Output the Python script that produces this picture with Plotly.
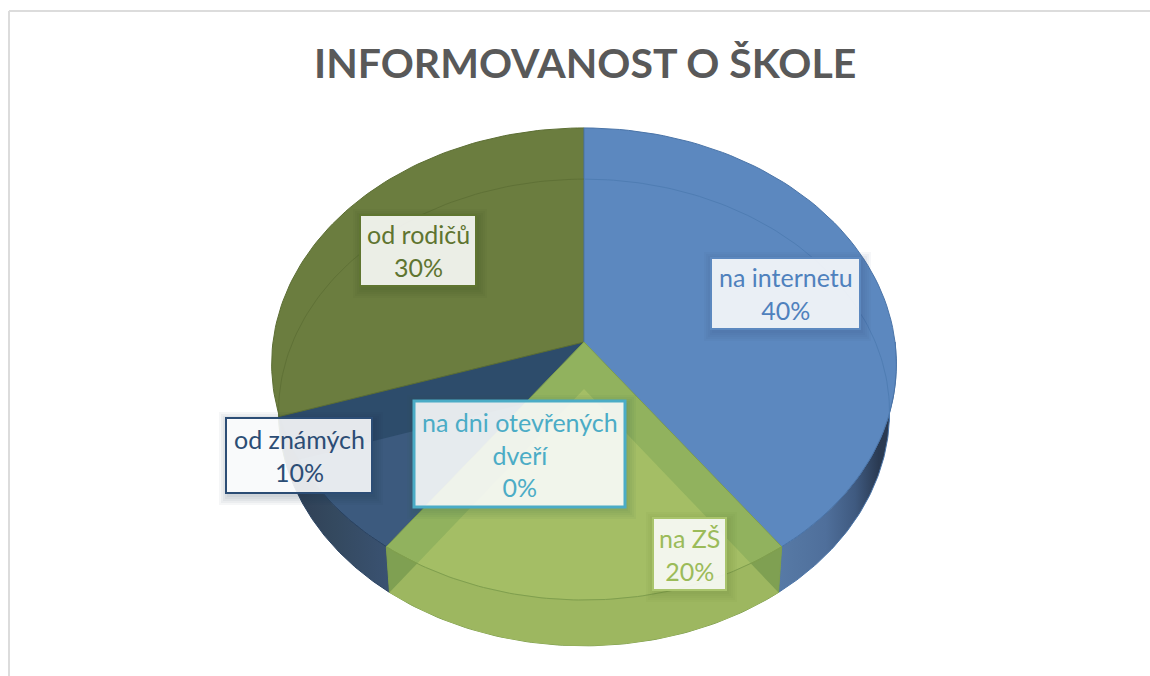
import math
import plotly.graph_objects as go

# ---- data ----
categories = ["na internetu", "na ZŠ", "na dni otevřených dveří", "od známých", "od rodičů"]
values = [40, 20, 0, 10, 30]
title_text = "INFORMOVANOST O ŠKOLE"

# ---- styling ----
TOP = {"blue": "#5C88BF", "green": "#91B25E", "navy": "#3C5A7E", "olive": "#6B7D3F"}
EDGE = {"blue": "#4A74A8", "green": "#7F9F4E", "navy": "#2A4362", "olive": "#5C6E33"}
FONT = "Lato"

# top and bottom disc of the perspective pie (pixel-space axes)
CX = 584
DISC_TOP = dict(y0=342, a=234, b=311, k=0.0932)
DISC_BOT = dict(y0=389, a=231, b=304, k=0.1006)


def proj(theta_deg, d):
    t = math.radians(theta_deg)
    u, v = math.sin(t), math.cos(t)
    w = 1 + d["k"] * v
    return CX + d["b"] * u / w, d["y0"] - d["a"] * v / w


def arc(t1, t2, d, n=80):
    pts = [proj(t1 + (t2 - t1) * i / n, d) for i in range(n + 1)]
    return [p[0] for p in pts], [p[1] for p in pts]


def sector(t1, t2, d):
    xs, ys = arc(t1, t2, d)
    return [CX] + xs + [CX], [d["y0"]] + ys + [d["y0"]]


def wall(t1, t2):
    x1, y1 = arc(t1, t2, DISC_TOP)
    x2, y2 = arc(t2, t1, DISC_BOT)
    return x1 + x2 + [x1[0]], y1 + y2 + [y1[0]]


# cumulative slice angles from the values
total = sum(values)
angles = {}
acc = 0
for c, v in zip(categories, values):
    angles[c] = (acc / total * 360, (acc + v) / total * 360)
    acc += v
blue = angles["na internetu"]
green = angles["na ZŠ"]
navy = angles["od známých"]
olive = angles["od rodičů"]

fig = go.Figure()


def poly(x, y, fill, line=None, width=1, **kw):
    fig.add_trace(go.Scatter(x=x, y=y, mode="lines", fill="toself", fillcolor=fill,
                             line=dict(color=line or "rgba(0,0,0,0)", width=width if line else 0),
                             hoverinfo="skip", showlegend=False, **kw))


def grad(x, y, stops, line):
    fig.add_trace(go.Scatter(x=x, y=y, mode="lines", fill="toself",
                             fillgradient=dict(type="horizontal", colorscale=stops),
                             line=dict(color=line, width=1),
                             hoverinfo="skip", showlegend=False))


# navy top, then the olive floor seen through it, then walls and remaining tops
x, y = sector(*navy, DISC_TOP)
poly(x, y, TOP["navy"], EDGE["navy"])
x, y = sector(*olive, DISC_BOT)
poly(x, y, "#2D4C6B")
x, y = wall(*navy)
grad(x, y, [[0, "#2E3C52"], [0.5, "#34495F"], [1, "#3A5272"]], EDGE["navy"])
x, y = wall(90, blue[1])
grad(x, y, [[0, "#577AA6"], [0.4, "#4F6F9B"], [0.65, "#3F5A80"], [0.85, "#2A3A52"], [1, "#2A3A52"]], EDGE["blue"])
x, y = wall(*green)
poly(x, y, "#7FA052", "#7F9F4E")
x, y = sector(*olive, DISC_TOP)
poly(x, y, TOP["olive"], EDGE["olive"])
x, y = sector(*blue, DISC_TOP)
poly(x, y, TOP["blue"], EDGE["blue"])
x, y = sector(*green, DISC_TOP)
poly(x, y, TOP["green"], EDGE["green"])

# green floor seen through the translucent slice
x, y = sector(*green, DISC_BOT)
poly(x, y, "rgba(176,198,107,0.6)")

# back edge of the floor seen through the top
for (t1, t2, col) in [(0, 98, "#4F7DB3"), (olive[0], 360, "#5F7136")]:
    x, y = arc(t1, t2, DISC_BOT)
    fig.add_trace(go.Scatter(x=x, y=y, mode="lines", line=dict(color=col, width=1),
                             hoverinfo="skip", showlegend=False))
# front rim over the green slice
x, y = arc(*green, DISC_TOP)
fig.add_trace(go.Scatter(x=x, y=y, mode="lines", line=dict(color=EDGE["green"], width=1),
                         hoverinfo="skip", showlegend=False))

# label boxes: (category, x0, y0, x1, y1, text colour, border width, border colour, shadow rgb)
boxes = [
    ("na internetu", 711, 258, 860, 329, "#4F81BD", 2, "#5C88BF", "40,70,110"),
    ("na ZŠ", 653, 518, 726, 590, "#9BBB59", 2, "#A9C46C", "90,120,40"),
    ("na dni otevřených dveří", 414, 401, 625, 507, "#4BACC6", 3, "#4BACC6", "40,90,60"),
    ("od známých", 226, 418, 372, 493, "#2C4D75", 2, "#2C4D75", "30,50,80"),
    ("od rodičů", 360, 215, 476, 286, "#5F7530", 2, "#5F7530", "50,65,25"),
]
line_breaks = {"na dni otevřených dveří": "na dni otevřených<br>dveří"}

shapes = []
annots = []
for c, x0, y0, x1, y1, txt, bw, bc, sh in boxes:
    for pad in (9, 7, 5, 3, 1):
        shapes.append(dict(type="rect", xref="x", yref="y", x0=x0 + 2 - pad, x1=x1 + 2 + pad,
                           y0=y0 + 3 - pad, y1=y1 + 3 + pad,
                           fillcolor=f"rgba({sh},0.045)", line=dict(width=0)))
    shapes.append(dict(type="rect", xref="x", yref="y", x0=x0, x1=x1, y0=y0, y1=y1,
                       fillcolor="rgba(255,255,255,0.88)", line=dict(color=bc, width=bw)))
    pct = values[categories.index(c)]
    annots.append(dict(x=(x0 + x1) / 2, y=(y0 + y1) / 2, xref="x", yref="y", showarrow=False,
                       text=f"{line_breaks.get(c, c)}<br>{pct}%", align="center",
                       font=dict(family=FONT, size=25, color=txt)))

# chart frame (top and left edges)
shapes.append(dict(type="line", xref="x", yref="y", x0=9, x1=1150, y0=11, y1=11,
                   line=dict(color="#DCDCDC", width=2)))
shapes.append(dict(type="line", xref="x", yref="y", x0=9, x1=9, y0=11, y1=676,
                   line=dict(color="#DCDCDC", width=2)))

annots.append(dict(x=585, y=62, xref="x", yref="y", showarrow=False, text=f"<b>{title_text}</b>",
                   font=dict(family=FONT, size=41, color="#595959")))

fig.update_layout(
    width=1150, height=676, autosize=False,
    margin=dict(l=0, r=0, t=0, b=0),
    paper_bgcolor="white", plot_bgcolor="white",
    xaxis=dict(range=[0, 1150], visible=False, fixedrange=True),
    yaxis=dict(range=[676, 0], visible=False, fixedrange=True),
    showlegend=False, shapes=shapes, annotations=annots,
)
fig.write_html("out.html", config={"displayModeBar": False},
               post_script="document.body.style.margin='0';document.body.style.overflow='hidden';")
